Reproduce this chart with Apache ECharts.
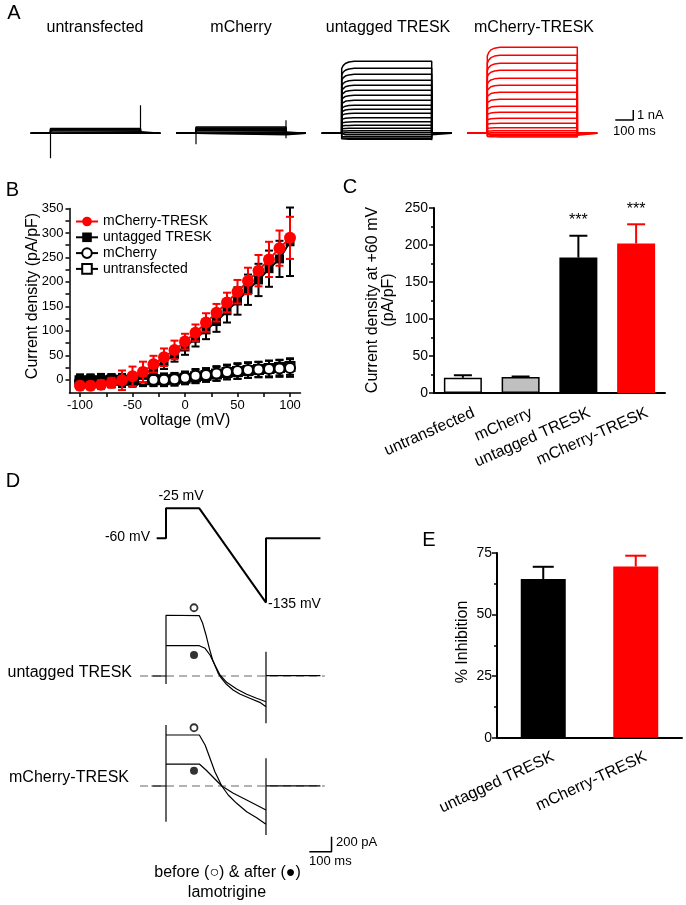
<!DOCTYPE html>
<html><head><meta charset="utf-8">
<script src="https://cdn.jsdelivr.net/npm/echarts@6/dist/echarts.min.js"></script>
<style>html,body{margin:0;padding:0;background:#fff}#c{width:686px;height:905px}</style>
</head><body><div id="c"></div><script>
// ================= DATA =================
// ---- Panel A: current families (nA) vs time (ms) ----
const aTitles = ['untransfected', 'mCherry', 'untagged TRESK', 'mCherry-TRESK'];
const aUntransfectedLevels = [0.48, 0.4, 0.32, 0.24, 0.16, 0.08, 0.0];
const aUntransfectedSpikes = [[0, -2.5], [500, 2.8]];
const aMCherryLevels = [0.62, 0.54, 0.46, 0.38, 0.3, 0.22, 0.14, 0.06, -0.04, -0.14];
const aMCherrySpikes = [[0, -1.1], [500, 1.3], [500, -0.5]];
const aUntaggedLevels = [7.2, 6.5, 5.9, 5.3, 4.8, 4.3, 3.8, 3.3, 2.8, 2.4, 2.0, 1.55, 1.15, 0.8, 0.5, 0.25, 0.05, -0.15, -0.35, -0.5, -0.6];
const aUntaggedSpikes = [[500, -0.7]];
const aRedLevels = [8.6, 7.8, 7.0, 6.3, 5.5, 4.8, 4.1, 3.4, 2.7, 2.1, 1.5, 1.0, 0.55, 0.25, 0.05, -0.1, -0.2, -0.28, -0.36];
const aRedSpikes = [];
const aOnsetTRESK = [[0, 0.9], [8, 0.94], [20, 0.97], [40, 0.99], [70, 1.0], [500, 1.0]];
const aOnsetFlat = [[0, 1], [500, 1]];
const aTimeWindow = [-110, 610];
const aStepEnd = 500;
const aScaleBar = [100, 1];           // ms, nA
const aScaleLabels = ['1 nA', '100 ms'];

// ---- Panel B: I-V curves ----
const bVolt = [-100, -90, -80, -70, -60, -50, -40, -30, -20, -10, 0, 10, 20, 30, 40, 50, 60, 70, 80, 90, 100];
const bMCherryTRESK = [-12, -12, -10, -6, -1, 7, 16, 32, 46, 61, 78, 96, 117, 137, 158, 180, 202, 223, 246, 269, 290];
const bMCherryTRESKErr = [8, 8, 9, 10, 20, 20, 21, 17, 18, 19, 16, 17, 19, 18, 20, 24, 27, 32, 36, 36, 43];
const bUntagged = [-1, -1, -1, -2, -2, 0, 9, 24, 37, 52, 67, 85, 102, 119, 141, 161, 184, 204, 227, 247, 282];
const bUntaggedErr = [12, 12, 13, 13, 13, 14, 14, 14, 15, 15, 16, 17, 19, 21, 24, 28, 31, 33, 37, 37, 70];
const bMCherry = [-3, -3, -2, -2, -1, 0, 0, 0, 0, 1, 4, 8, 10, 13, 16, 18, 20, 21, 22, 23, 24];
const bMCherryErr = [13, 13, 13, 13, 13, 13, 13, 13, 13, 13, 13, 14, 14, 15, 15, 16, 16, 16, 17, 17, 18];
const bUntransfected = [-2, -2, -2, -1, -1, -1, 0, 0, 0, 1, 3, 6, 9, 12, 15, 17, 19, 21, 23, 25, 27];
const bUntransfectedErr = [12, 12, 12, 12, 12, 12, 12, 12, 12, 12, 12, 13, 13, 14, 14, 15, 15, 15, 16, 16, 17];
const bSeriesNames = ['mCherry-TRESK', 'untagged TRESK', 'mCherry', 'untransfected'];
const bXTicks = [-100, -75, -50, -25, 0, 25, 50, 75, 100];
const bXLabels = [-100, -50, 0, 50, 100];
const bYTicks = [0, 25, 50, 75, 100, 125, 150, 175, 200, 225, 250, 275, 300, 325, 350];
const bYLabels = [0, 50, 100, 150, 200, 250, 300, 350];

// ---- Panel C ----
const cCats = ['untransfected', 'mCherry', 'untagged TRESK', 'mCherry-TRESK'];
const cValues = [20.5, 21.5, 183, 202];
const cErr = [3.5, 0.8, 29.5, 26];
const cStars = ['', '', '***', '***'];

// ---- Panel D ----
const dProtocol = [[-42, -60], [0, -60], [0, -25], [150, -25], [450, -135], [450, -60], [695, -60]];
const dProtocolLabels = ['-60 mV', '-25 mV', '-135 mV'];
const dUntaggedBefore = [[-65, 0], [0, 0], [0, -107], [0, 810], [0, 804], [150, 804], [165, 702], [180, 547], [195, 369], [210, 213], [235, 36], [250, -31], [272, -111], [302, -187], [332, -240], [377, -297], [422, -351], [450, -409], [450, -631], [450, 324], [450, 5], [695, 5]];
const dUntaggedAfter = [[0, 404], [150, 404], [176, 369], [198, 280], [220, 147], [243, 13], [273, -84], [318, -173], [363, -244], [408, -297], [450, -343]];
const dMCherryBefore = [[-65, 0], [0, 0], [0, -476], [0, 813], [0, 680], [150, 680], [176, 547], [198, 369], [220, 191], [251, 0], [280, -120], [318, -231], [363, -343], [408, -423], [450, -511], [450, -653], [450, 369], [450, 3], [695, 3]];
const dMCherryAfter = [[0, 293], [150, 293], [180, 213], [220, 93], [251, 0], [303, -97], [363, -187], [450, -320]];
const dMarkerTime = 126;
const dUntaggedMarks = [910, 280];   // before (open), after (filled)
const dMCherryMarks = [777, 204];
const dBaselineSpan = [-117, 715];
const dScaleBar = [100, 200];        // ms, pA
const dTexts = ['untagged TRESK', 'mCherry-TRESK', '200 pA', '100 ms', 'before (\u25CB) & after (\u25CF)', 'lamotrigine'];

// ---- Panel E ----
const eCats = ['untagged TRESK', 'mCherry-TRESK'];
const eValues = [64.4, 69.5];
const eErr = [5.0, 4.4];

// ================= LAYOUT / STYLE =================
const FF = '"Liberation Sans", Arial, Helvetica, sans-serif';
const BLACK = '#000', RED = '#ff0000';
const grids = [], xAxes = [], yAxes = [], series = [];

function hiddenAxes(gi, xr, yr) {
  xAxes.push({type: 'value', gridIndex: gi, min: xr[0], max: xr[1], show: false});
  yAxes.push({type: 'value', gridIndex: gi, min: yr[0], max: yr[1], show: false});
}
function lineS(ai, data, color, width, extra) {
  return Object.assign({type: 'line', xAxisIndex: ai, yAxisIndex: ai, data: data, symbol: 'none', showSymbol: false,
    lineStyle: {color: color, width: width}, silent: true, animation: false, z: 3}, extra || {});
}
function gridBox(l, t, w, h) { return {left: l, top: t, width: w, height: h, containLabel: false, outerBoundsMode: 'none'}; }

// ---- Panel A layout ----
const A_PX_MS = 0.18, A_PX_NA = 10, A_BASE_Y = 133.3;
const A_STEP_X = [50.5, 196, 341.7, 487.3];
const A_T = [-120, 830], A_I = [-4, 9];
A_STEP_X.forEach((sx, i) => {
  grids.push(gridBox(sx + A_T[0] * A_PX_MS, A_BASE_Y - A_I[1] * A_PX_NA, (A_T[1] - A_T[0]) * A_PX_MS, (A_I[1] - A_I[0]) * A_PX_NA));
  hiddenAxes(i, A_T, A_I);
});
function aTraces(levels, onset) {
  return levels.map(L => [[aTimeWindow[0], 0], [0, 0]]
    .concat(onset.map(p => [p[0], +(L * p[1]).toFixed(3)]))
    .concat([[aStepEnd, 0], [aTimeWindow[1], 0]]));
}
const aFamilies = [
  {levels: aUntransfectedLevels, onset: aOnsetFlat, spikes: aUntransfectedSpikes, color: BLACK},
  {levels: aMCherryLevels, onset: aOnsetFlat, spikes: aMCherrySpikes, color: BLACK},
  {levels: aUntaggedLevels, onset: aOnsetTRESK, spikes: aUntaggedSpikes, color: BLACK},
  {levels: aRedLevels, onset: aOnsetTRESK, spikes: aRedSpikes, color: RED}
];
aFamilies.forEach((f, i) => {
  aTraces(f.levels, f.onset).forEach(d => series.push(lineS(i, d, f.color, 1.5)));
  f.spikes.forEach(s => series.push(lineS(i, [[s[0], 0], [s[0], s[1]]], f.color, 1.2)));
});
const A_SCALE_ANCHOR = [811, 1.33];
series.push(lineS(3, [[A_SCALE_ANCHOR[0] - aScaleBar[0], A_SCALE_ANCHOR[1]], A_SCALE_ANCHOR, [A_SCALE_ANCHOR[0], A_SCALE_ANCHOR[1] + aScaleBar[1]]], BLACK, 1.5));

// ---- Panel B ----
const B = 4;
grids.push(gridBox(69.5, 208.5, 231, 184.5));
const axLine = (w) => ({show: true, onZero: false, lineStyle: {color: BLACK, width: w}});
xAxes.push({type: 'value', gridIndex: B, min: -110, max: 110,
  axisLine: axLine(1.5), splitLine: {show: false},
  axisTick: {show: true, inside: false, length: 4, lineStyle: {color: BLACK, width: 1.5}, customValues: bXTicks},
  axisLabel: {show: true, customValues: bXLabels, fontSize: 13, color: BLACK, margin: 6, fontFamily: FF}});
yAxes.push({type: 'value', gridIndex: B, min: -27, max: 350,
  axisLine: axLine(1.5), splitLine: {show: false},
  axisTick: {show: true, inside: false, length: 4, lineStyle: {color: BLACK, width: 1.5}, customValues: bYTicks},
  axisLabel: {show: true, customValues: bYLabels, fontSize: 13, color: BLACK, margin: 6, fontFamily: FF}});

function vErr(color, cap, lw) {
  return function (params, api) {
    const x = api.value(0), y = api.value(1), e = api.value(2);
    const hi = api.coord([x, y + e]), lo = api.coord([x, y - e]);
    const st = {stroke: color, lineWidth: lw};
    return {type: 'group', children: [
      {type: 'line', shape: {x1: hi[0], y1: hi[1], x2: lo[0], y2: lo[1]}, style: st},
      {type: 'line', shape: {x1: hi[0] - cap, y1: hi[1], x2: hi[0] + cap, y2: hi[1]}, style: st},
      {type: 'line', shape: {x1: lo[0] - cap, y1: lo[1], x2: lo[0] + cap, y2: lo[1]}, style: st}
    ]};
  };
}
const zip3 = (xs, ys, es) => xs.map((x, i) => [x, ys[i], es[i]]);
const zip2 = (xs, ys) => xs.map((x, i) => [x, ys[i]]);
const bDefs = [
  {name: bSeriesNames[3], vals: bUntransfected, err: bUntransfectedErr, symbol: 'rect', size: 9, fill: '#fff', color: BLACK, lw: 1.5},
  {name: bSeriesNames[2], vals: bMCherry, err: bMCherryErr, symbol: 'circle', size: 10, fill: '#fff', color: BLACK, lw: 1.5},
  {name: bSeriesNames[1], vals: bUntagged, err: bUntaggedErr, symbol: 'rect', size: 9, fill: BLACK, color: BLACK, lw: 2},
  {name: bSeriesNames[0], vals: bMCherryTRESK, err: bMCherryTRESKErr, symbol: 'circle', size: 12, fill: RED, color: RED, lw: 2}
];
bDefs.forEach((d, k) => {
  series.push({type: 'custom', xAxisIndex: B, yAxisIndex: B, data: zip3(bVolt, d.vals, d.err), encode: {x: 0, y: 1},
    renderItem: vErr(d.color, 4, 2), z: 10 + k * 2, silent: true, animation: false});
  series.push({type: 'line', name: d.name, xAxisIndex: B, yAxisIndex: B, data: zip2(bVolt, d.vals),
    symbol: d.symbol, symbolSize: d.size, showSymbol: true,
    lineStyle: {color: d.color, width: d.lw},
    itemStyle: {color: d.fill, borderColor: d.color, borderWidth: d.fill === '#fff' ? 2 : 0, opacity: 1},
    z: 11 + k * 2, silent: true, animation: false});
});

// ---- Panel C ----
const C = 5;
grids.push(gridBox(434, 208, 231, 185));
xAxes.push({type: 'category', gridIndex: C, data: cCats, boundaryGap: true,
  axisLine: axLine(2), axisTick: {show: false}, splitLine: {show: false},
  axisLabel: {interval: 0, rotate: 24, margin: 24, fontSize: 16, color: BLACK, fontFamily: FF, padding: [0, -12, 0, 0]}});
yAxes.push({type: 'value', gridIndex: C, min: 0, max: 250, interval: 50,
  axisLine: axLine(2), splitLine: {show: false}, minorSplitLine: {show: false},
  axisTick: {show: true, inside: false, length: 5, lineStyle: {color: BLACK, width: 1.5}},
  minorTick: {show: true, splitNumber: 2, length: 3, lineStyle: {color: BLACK, width: 1.5}},
  axisLabel: {fontSize: 14, color: BLACK, margin: 6, fontFamily: FF}});
const cStyles = [
  {color: '#ffffff', borderColor: BLACK, borderWidth: 1.5},
  {color: '#c0c0c0', borderColor: BLACK, borderWidth: 1.5},
  {color: BLACK},
  {color: RED}
];
const cErrColors = [BLACK, BLACK, BLACK, RED];
series.push({type: 'bar', xAxisIndex: C, yAxisIndex: C, barWidth: 38,
  data: cValues.map((v, i) => ({value: v, itemStyle: cStyles[i]})), z: 2, silent: true, animation: false});

function upErr(colors, cap, lw, stars) {
  return function (params, api) {
    const i = params.dataIndex;
    const x = api.value(0), y = api.value(1), e = api.value(2);
    const base = api.coord([x, y]), hi = api.coord([x, y + e]);
    const st = {stroke: colors[i], lineWidth: lw};
    const ch = [
      {type: 'line', shape: {x1: base[0], y1: base[1], x2: hi[0], y2: hi[1]}, style: st},
      {type: 'line', shape: {x1: hi[0] - cap, y1: hi[1], x2: hi[0] + cap, y2: hi[1]}, style: st}
    ];
    if (stars && stars[i]) ch.push({type: 'text', x: hi[0], y: hi[1] - 15,
      style: {text: stars[i], fontSize: 16, fontFamily: FF, fill: BLACK, align: 'center', verticalAlign: 'middle'}});
    return {type: 'group', children: ch};
  };
}
series.push({type: 'custom', xAxisIndex: C, yAxisIndex: C, encode: {x: 0, y: 1},
  data: cValues.map((v, i) => [i, v, cErr[i]]), renderItem: upErr(cErrColors, 9, 2, cStars), z: 1, silent: true, animation: false});

// ---- Panel D ----
const D_PX_MS = 0.2222, D_T0_X = 166, D_T = [-130, 780];
const dLeft = D_T0_X + D_T[0] * D_PX_MS, dWidth = (D_T[1] - D_T[0]) * D_PX_MS;
// protocol (mV)
const D_PX_MV = 0.857, D_MV = [-145, -15], D_MV_REF = [-25, 508.3];
grids.push(gridBox(dLeft, D_MV_REF[1] - (D_MV[1] - D_MV_REF[0]) * D_PX_MV, dWidth, (D_MV[1] - D_MV[0]) * D_PX_MV));
hiddenAxes(6, D_T, D_MV);
series.push(lineS(6, dProtocol, BLACK, 2));
// currents (pA)
const D_PX_PA = 0.075;
const D_U = [-1000, 1200], D_U_BASE = 676;
const D_M = [-1000, 1000], D_M_BASE = 786;
grids.push(gridBox(dLeft, D_U_BASE - D_U[1] * D_PX_PA, dWidth, (D_U[1] - D_U[0]) * D_PX_PA));
hiddenAxes(7, D_T, D_U);
grids.push(gridBox(dLeft, D_M_BASE - D_M[1] * D_PX_PA, dWidth, (D_M[1] - D_M[0]) * D_PX_PA));
hiddenAxes(8, D_T, D_M);
[7, 8].forEach(ai => series.push(lineS(ai, [[dBaselineSpan[0], 0], [dBaselineSpan[1], 0]], '#9a9a9a', 1.5,
  {lineStyle: {color: '#9a9a9a', width: 1.5, type: [8, 5]}, z: 1})));
series.push(lineS(7, dUntaggedBefore, BLACK, 1.2));
series.push(lineS(7, dUntaggedAfter, BLACK, 1.2));
series.push(lineS(8, dMCherryBefore, BLACK, 1.2));
series.push(lineS(8, dMCherryAfter, BLACK, 1.2));
function dMarks(ai, vals) {
  series.push({type: 'scatter', xAxisIndex: ai, yAxisIndex: ai, data: [[dMarkerTime, vals[0]]], symbol: 'circle', symbolSize: 7,
    itemStyle: {color: '#fff', borderColor: BLACK, borderWidth: 1.8}, z: 5, silent: true, animation: false});
  series.push({type: 'scatter', xAxisIndex: ai, yAxisIndex: ai, data: [[dMarkerTime, vals[1]]], symbol: 'circle', symbolSize: 8,
    itemStyle: {color: BLACK}, z: 5, silent: true, animation: false});
}
dMarks(7, dUntaggedMarks);
dMarks(8, dMCherryMarks);
const D_SCALE_ANCHOR = [745, -875];
series.push(lineS(8, [[D_SCALE_ANCHOR[0] - dScaleBar[0], D_SCALE_ANCHOR[1]], D_SCALE_ANCHOR, [D_SCALE_ANCHOR[0], D_SCALE_ANCHOR[1] + dScaleBar[1]]], BLACK, 1.5));

// ---- Panel E ----
const E = 9;
grids.push(gridBox(497, 553, 185, 184.7));
xAxes.push({type: 'category', gridIndex: E, data: eCats, boundaryGap: true,
  axisLine: axLine(2), axisTick: {show: false}, splitLine: {show: false},
  axisLabel: {interval: 0, rotate: 25, margin: 23, fontSize: 16, color: BLACK, fontFamily: FF, padding: [0, -11, 0, 0]}});
yAxes.push({type: 'value', gridIndex: E, min: 0, max: 75, interval: 25,
  axisLine: axLine(2), splitLine: {show: false}, minorSplitLine: {show: false},
  axisTick: {show: true, inside: false, length: 5, lineStyle: {color: BLACK, width: 1.5}},
  minorTick: {show: true, splitNumber: 2, length: 3, lineStyle: {color: BLACK, width: 1.5}},
  axisLabel: {fontSize: 14, color: BLACK, margin: 5, fontFamily: FF}});
const eColors = [BLACK, RED];
series.push({type: 'bar', xAxisIndex: E, yAxisIndex: E, barWidth: 45,
  data: eValues.map((v, i) => ({value: v, itemStyle: {color: eColors[i]}})), z: 2, silent: true, animation: false});
series.push({type: 'custom', xAxisIndex: E, yAxisIndex: E, encode: {x: 0, y: 1},
  data: eValues.map((v, i) => [i, v, eErr[i]]), renderItem: upErr(eColors, 10.5, 2, null), z: 1, silent: true, animation: false});

// ---- Text (graphic) ----
function txt(x, y, text, size, align, rot, extra) {
  return Object.assign({type: 'text', x: x, y: y, rotation: rot || 0, z: 100, silent: true,
    style: Object.assign({text: text, fontSize: size, fontFamily: FF, fill: BLACK, align: align || 'center', verticalAlign: 'middle'}, extra || {})});
}
const HALF_PI = Math.PI / 2;
const graphics = [
  txt(14, 13, 'A', 20), txt(12.5, 190, 'B', 20), txt(350, 187.5, 'C', 20), txt(13, 481, 'D', 20), txt(429, 540, 'E', 20),
  txt(95, 28, aTitles[0], 16), txt(241, 28, aTitles[1], 16), txt(388, 28, aTitles[2], 16), txt(534, 28, aTitles[3], 16),
  txt(637, 115, aScaleLabels[0], 13, 'left'), txt(613, 131, aScaleLabels[1], 13, 'left'),
  txt(33, 296, 'Current density (pA/pF)', 16, 'center', HALF_PI),
  txt(185, 421, 'voltage (mV)', 16),
  txt(380.5, 300, 'Current density at +60 mV\n(pA/pF)', 16, 'center', HALF_PI, {lineHeight: 16}),
  txt(463, 642, '% Inhibition', 16, 'center', HALF_PI),
  txt(150, 537, dProtocolLabels[0], 14, 'right'), txt(181, 496, dProtocolLabels[1], 14), txt(268, 604, dProtocolLabels[2], 14, 'left'),
  txt(132, 673, dTexts[0], 16, 'right'), txt(129, 778, dTexts[1], 16, 'right'),
  txt(336, 842, dTexts[2], 13, 'left'), txt(309, 861, dTexts[3], 13, 'left'),
  txt(227.5, 873, dTexts[4], 16), txt(227, 893, dTexts[5], 16)
];

const chart = echarts.init(document.getElementById('c'), null, {renderer: 'canvas', width: 686, height: 905});
chart.setOption({
  animation: false,
  backgroundColor: '#fff',
  textStyle: {fontFamily: FF, color: BLACK},
  grid: grids,
  xAxis: xAxes,
  yAxis: yAxes,
  legend: {data: bSeriesNames, orient: 'vertical', left: 75, top: 214.5, itemWidth: 22, itemHeight: 12, itemGap: 1.8,
    padding: 0, selectedMode: false, textStyle: {fontSize: 14, color: BLACK, fontFamily: FF}},
  series: series,
  graphic: graphics
});
</script></body></html>
